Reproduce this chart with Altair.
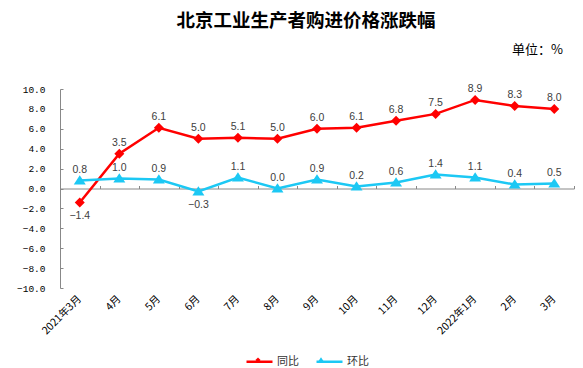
import altair as alt
import pandas as pd

title_text = "北京工业生产者购进价格涨跌幅"
unit_text = "单位：%"
months = ["2021年3月", "4月", "5月", "6月", "7月", "8月", "9月", "10月", "11月", "12月",
          "2022年1月", "2月", "3月"]
series_names = ["同比", "环比"]
yoy = [-1.4, 3.5, 6.1, 5.0, 5.1, 5.0, 6.0, 6.1, 6.8, 7.5, 8.9, 8.3, 8.0]
mom = [0.8, 1.0, 0.9, -0.3, 1.1, 0.0, 0.9, 0.2, 0.6, 1.4, 1.1, 0.4, 0.5]
y_ticks = [-10, -8, -6, -4, -2, 0, 2, 4, 6, 8, 10]

colors = ["#FF0000", "#1CC8F4"]
diamond = "M0,-0.2L0.2,0L0,0.2L-0.2,0Z"
triangle = "M0,-0.21L0.24,0.16L-0.24,0.16Z"

df = pd.DataFrame({
    "month": months * 2,
    "value": yoy + mom,
    "series": [series_names[0]] * len(months) + [series_names[1]] * len(months),
})
df["series2"] = df["series"]

W, H = 514, 199
CJK = "Noto Sans CJK SC"
LABEL_SIZE = 11

xs = alt.Scale(type="band", paddingInner=0, paddingOuter=0, domain=months)
ys = alt.Scale(domain=[-10, 10], nice=False, zero=False)

legend_common = dict(orient="none", legendX=185, legendY=258, direction="horizontal",
                     title=None, symbolSize=676, labelFont=CJK, labelFontSize=LABEL_SIZE,
                     labelColor="#333333", labelOffset=3, padding=0)

lines = alt.Chart(df).mark_line(strokeWidth=2.5).encode(
    x=alt.X("month:N", sort=months, scale=xs,
            axis=alt.Axis(orient="bottom", title=None, domain=False, ticks=False,
                          labelAngle=-45, labelAlign="right", labelBaseline="middle",
                          labelPadding=9, labelFont=CJK, labelFontSize=10.5,
                          labelColor="#000000", grid=False)),
    y=alt.Y("value:Q", scale=ys,
            axis=alt.Axis(title=None, values=y_ticks, format=".1f", domain=True,
                          domainColor="#888888", ticks=False, labelPadding=15, grid=False,
                          labelFont="Liberation Mono", labelFontSize=9.5,
                          labelColor="#000000")),
    stroke=alt.Stroke("series:N", scale=alt.Scale(range=colors),
                      legend=alt.Legend(symbolType="stroke", symbolStrokeWidth=2.5,
                                        columnPadding=12, **legend_common)),
)

marker_legend = alt.Legend(labelExpr="''", symbolStrokeWidth=0,
                           columnPadding=12 + 2 * LABEL_SIZE, **legend_common)
points = alt.Chart(df).mark_point(filled=True, size=2500, opacity=1).encode(
    x=alt.X("month:N", sort=months, scale=xs,
            axis=alt.Axis(orient="top", offset=-(H / 2), labels=False, ticks=True,
                          tickBand="extent", tickSize=3, tickColor="#888888",
                          domainColor="#888888", title=None, grid=False)),
    y=alt.Y("value:Q", scale=ys,
            axis=alt.Axis(orient="right", offset=-W, labels=False, domain=False,
                          ticks=True, tickSize=3, tickColor="#888888", values=y_ticks,
                          title=None, grid=False)),
    fill=alt.Fill("series2:N", scale=alt.Scale(domain=series_names, range=colors),
                  legend=marker_legend),
    shape=alt.Shape("series2:N", scale=alt.Scale(domain=series_names, range=[diamond, triangle]),
                    legend=marker_legend),
)

label_style = dict(font="Liberation Sans", fontSize=10.5, color="#404040")
above = alt.Chart(df).transform_filter("datum.value >= 0").mark_text(dy=-11, **label_style).encode(
    x=alt.X("month:N", sort=months, scale=xs, axis=None),
    y=alt.Y("value:Q", scale=ys, axis=None),
    text=alt.Text("value:Q", format=".1f"),
)
below = alt.Chart(df).transform_filter("datum.value < 0").mark_text(dy=14, **label_style).encode(
    x=alt.X("month:N", sort=months, scale=xs, axis=None),
    y=alt.Y("value:Q", scale=ys, axis=None),
    text=alt.Text("value:Q", format=".1f"),
)

title_layer = alt.Chart(pd.DataFrame({"t": [title_text]})).mark_text(
    font=CJK, fontSize=18.5, fontWeight="bold", align="center", baseline="middle",
    color="#000000").encode(x=alt.value(246), y=alt.value(-68), text="t:N")
unit_layer = alt.Chart(pd.DataFrame({"t": [unit_text]})).mark_text(
    font=CJK, fontSize=13, align="right", baseline="middle",
    color="#000000").encode(x=alt.value(503), y=alt.value(-39), text="t:N")

chart = alt.layer(lines, points, above, below, title_layer, unit_layer).resolve_axis(
    x="independent", y="independent"
).properties(
    width=W, height=H,
    padding={"left": 52, "top": 81, "right": 1, "bottom": 80},
    autosize=alt.AutoSizeParams(type="none"),
    background="#FFFFFF",
).configure_view(stroke=None)

chart.save("out.html", embed_options={"renderer": "svg", "actions": False})
